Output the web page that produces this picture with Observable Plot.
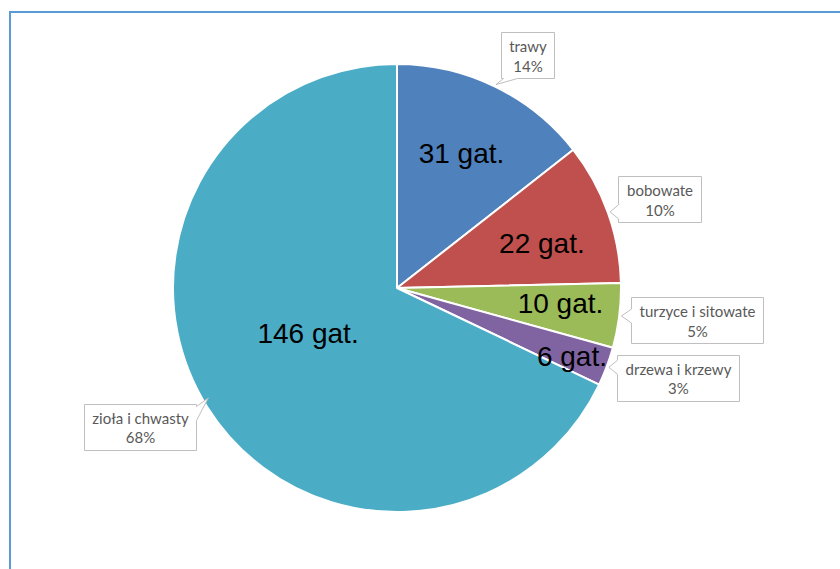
<!DOCTYPE html>
<html><head><meta charset="utf-8">
<script src="https://cdn.jsdelivr.net/npm/d3@7"></script>
<script src="https://cdn.jsdelivr.net/npm/@observablehq/plot@0.6"></script>
<style>
html,body{margin:0;padding:0;background:#fff;overflow:hidden;}
#wrap{position:relative;width:840px;height:569px;overflow:hidden;}
#frame{position:absolute;left:9px;top:11px;width:900px;height:700px;border:2px solid #5b9bd5;box-sizing:border-box;pointer-events:none;}
#chart svg{position:absolute;left:0;top:0;}
</style></head><body>
<div id="wrap"><div id="chart"></div><div id="frame"></div></div>
<script>
// ---- data ----
const categories = ["trawy", "bobowate", "turzyce i sitowate", "drzewa i krzewy", "zioła i chwasty"];
const counts = [31, 22, 10, 6, 146];
const unit = " gat.";
const colors = ["#4f81bd", "#c0504d", "#9bbb59", "#8064a2", "#4bacc6"];

// ---- layout ----
const W = 840, H = 569, CX = 397, CY = 288, R = 224;
const innerR = [0.663, 0.675, 0.731, 0.836, 0.449];
const innerShift = [-0.45, 2.4, -1.5, 0.8, 5];          // degrees
const calloutR = [1.192, 1.237, 1.347, 1.317, 1.303];
const calloutShift = [3.3, 1.0, -1.0, -2.75, 3.9];       // degrees
const tipR = [1.01, 1.01, 1.01, 1.01, 0.975];
const labelFont = "Lato", labelSize = 15, labelLine = 1.3;
const rad = Math.PI / 180;

const total = d3.sum(counts);
const pie = d3.pie().sort(null).value(d => d)(counts);
const polar = (a, r) => [r * Math.sin(a), r * Math.cos(a)];
const rows = categories.map((c, i) => {
  const mid = (pie[i].startAngle + pie[i].endAngle) / 2;
  const [ix, iy] = polar(mid + innerShift[i] * rad, innerR[i]);
  const [lx, ly] = polar(mid + calloutShift[i] * rad, calloutR[i]);
  const [tx, ty] = polar(mid + (i === 4 ? 2 * rad : 0), tipR[i]);
  return {
    category: c, count: counts[i], countLabel: counts[i] + unit,
    pct: Math.round(counts[i] / total * 100) + "%",
    ix, iy, lx, ly, tx, ty, i
  };
});

const canvas = document.createElement("canvas");
const ctx = canvas.getContext("2d");
ctx.font = `${labelSize}px ${labelFont}`;

function slicesMark(index, scales) {
  const cx = scales.x(0), cy = scales.y(0), rr = scales.x(1) - scales.x(0);
  const arc = d3.arc().innerRadius(0).outerRadius(rr);
  const g = d3.create("svg:g").attr("transform", `translate(${cx},${cy})`);
  g.selectAll("path").data(pie).join("path")
    .attr("d", arc)
    .attr("fill", (d, i) => colors[i])
    .attr("stroke", "#fff").attr("stroke-width", 2).attr("stroke-linejoin", "round");
  return g.node();
}

function calloutBoxes(index, scales) {
  const g = d3.create("svg:g");
  const lineH = labelSize * labelLine;
  for (const d of rows) {
    const px = scales.x(d.lx), py = scales.y(d.ly);
    const tw = Math.max(ctx.measureText(d.category).width, ctx.measureText(d.pct).width);
    const bwid = tw + 16, bh = 2 * lineH + 7;
    const x0 = Math.round(px - bwid / 2) + 0.5, x1 = Math.round(px + bwid / 2) + 0.5;
    const y0 = Math.round(py - bh / 2) + 0.5, y1 = Math.round(py + bh / 2) + 0.5;
    const tip = [scales.x(d.tx), scales.y(d.ty)];
    const dxo = tip[0] < x0 ? x0 - tip[0] : tip[0] > x1 ? tip[0] - x1 : 0;
    const dyo = tip[1] < y0 ? y0 - tip[1] : tip[1] > y1 ? tip[1] - y1 : 0;
    const w = 7;
    const cl = (v, a, b) => Math.max(a, Math.min(b, v));
    let pts;
    if (dxo >= dyo) {
      const b = cl(tip[1], y0 + w + 2, y1 - w - 2);
      if (tip[0] < x0) pts = [[x0, y0], [x1, y0], [x1, y1], [x0, y1], [x0, b + w], tip, [x0, b - w]];
      else pts = [[x0, y0], [x1, y0], [x1, b - w], tip, [x1, b + w], [x1, y1], [x0, y1]];
    } else {
      const b = cl(tip[0], x0 + w + 2, x1 - w - 2);
      if (tip[1] > y1) pts = [[x0, y0], [x1, y0], [x1, y1], [b + w, y1], tip, [b - w, y1], [x0, y1]];
      else pts = [[x0, y0], [b - w, y0], tip, [b + w, y0], [x1, y0], [x1, y1], [x0, y1]];
    }
    g.append("path").attr("d", "M" + pts.map(p => p.join(",")).join("L") + "Z")
      .attr("fill", "#fff").attr("stroke", "#bfbfbf").attr("stroke-width", 1);
  }
  return g.node();
}

const plot = Plot.plot({
  width: W, height: H, margin: 0,
  x: {domain: [-CX / R, (W - CX) / R], axis: null},
  y: {domain: [-(H - CY) / R, CY / R], axis: null},
  style: {background: "transparent", overflow: "visible"},
  marks: [
    slicesMark,
    Plot.text(rows, {x: "ix", y: "iy", text: "countLabel", fontSize: 28,
      fontFamily: "Liberation Sans, Arial, sans-serif", fill: "#000"}),
    calloutBoxes,
    Plot.text(rows, {x: "lx", y: "ly", text: d => d.category + "\n" + d.pct,
      fontSize: labelSize, lineHeight: labelLine, fontFamily: labelFont, fill: "#595959"})
  ]
});
document.getElementById("chart").appendChild(plot);
</script>
</body></html>
